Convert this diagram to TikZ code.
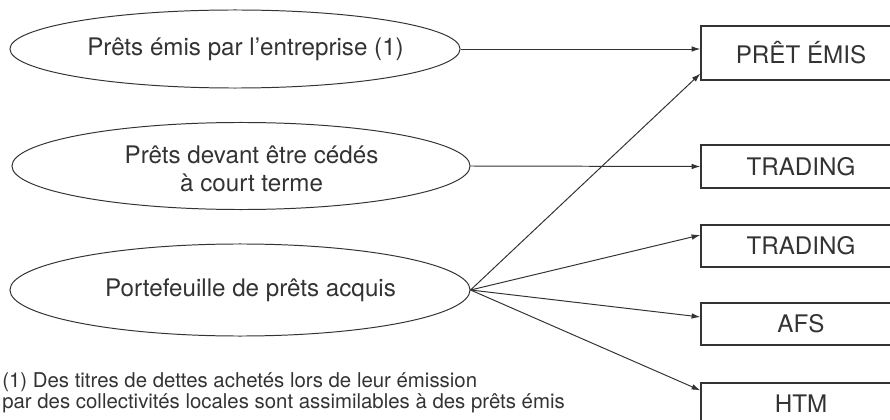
\documentclass[tikz,border=0pt]{standalone}
\usepackage{fontspec}
\setmainfont{TeX Gyre Heros}
\usepackage{tikz}
\usetikzlibrary{calc,shapes.geometric,arrows.meta}

\begin{document}
\begin{tikzpicture}[x=0.025cm,y=-0.025cm]
\pgfmathsetmacro{\xBox}{801}
\definecolor{ink}{HTML}{333333}

\tikzstyle{loanset}=[draw=ink,ellipse,inner sep=0pt,line width=0.7pt]
\tikzstyle{loantext}=[text=ink,align=center,xshift=7.5pt,font=\fontsize{17.2}{19.5}\selectfont]
\tikzstyle{category}=[draw=ink,rectangle,line width=0.8pt,text=ink,minimum width=5cm,minimum height=1.05cm,font=\fontsize{17.2}{19.5}\selectfont]
\tikzstyle{flow}=[draw=ink,line width=0.7pt,-{Latex[length=2.2mm,width=1.4mm]}]
\useasboundingbox (0,0) rectangle (890,420);

\node[loanset,minimum width=11.25cm,minimum height=1.95cm,label={[loantext]center:Prêts émis par l'entreprise (1)}] (issued) at (235,49) {};
\node[loanset,minimum width=11.45cm,minimum height=2.175cm,label={[loantext,yshift=-2pt]center:Prêts devant être cédés\\à court terme}] (short) at (241,166) {};
\node[loanset,minimum width=11.5cm,minimum height=2.3cm,label={[loantext]center:Portefeuille de prêts acquis}] (bought) at (240,290) {};

\node[category,minimum height=1.35cm] (pe) at (\xBox,53) {PRÊT ÉMIS};
\node[category,minimum height=1.075cm] (trA) at (\xBox,166.5) {TRADING};
\node[category] (trB) at (\xBox,246) {TRADING};
\node[category] (afs) at (\xBox,324) {AFS};
\node[category] (htm) at (\xBox,404) {HTM};

\draw[flow] (issued.east) -- (pe.west |- issued.east);
\draw[flow] (short.east) -- (trA.west);
\draw[flow] (bought.east) -- ($(pe.south west)+(0,-7)$);
\draw[flow] (bought.east) -- ($(trB.west)+(0,-11)$);
\draw[flow] (bought.east) -- ($(afs.west)+(0,-7)$);
\draw[flow] (bought.east) -- ($(htm.north west)+(0,8)$);

\node[text=ink,align=left,anchor=north west,inner sep=0pt,font=\fontsize{14.5}{15.2}\selectfont] (note) at (2,372) {(1) Des titres de dettes achetés lors de leur émission\\par des collectivités locales sont assimilables à des prêts émis};
\end{tikzpicture}
\end{document}
